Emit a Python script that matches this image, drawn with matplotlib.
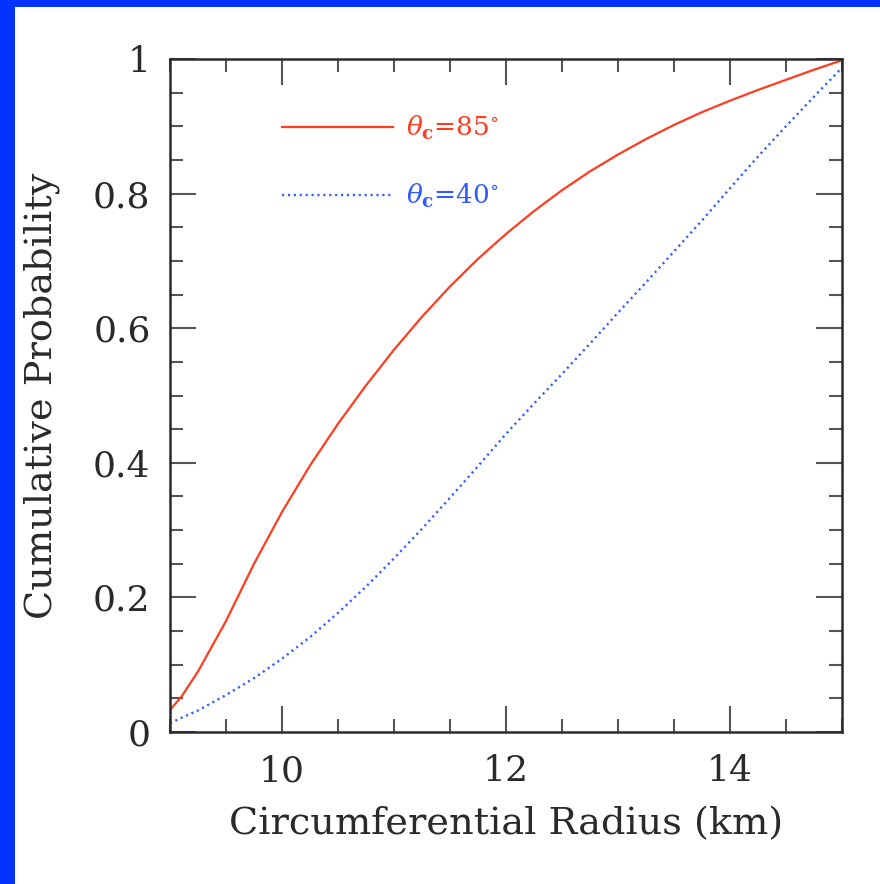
import numpy as np
import matplotlib
matplotlib.use('Agg')
import matplotlib.pyplot as plt
from matplotlib.ticker import MultipleLocator, FuncFormatter
from matplotlib.patches import Rectangle

# values
radius = [9.0, 9.1, 9.25, 9.5, 9.75, 10.0, 10.25, 10.5, 10.75, 11.0, 11.25, 11.5, 11.75,
          12.0, 12.25, 12.5, 12.75, 13.0, 13.25, 13.5, 13.75, 14.0, 14.25, 14.5, 14.75, 15.0]
prob_85 = [0.033, 0.052, 0.090, 0.165, 0.250, 0.327, 0.396, 0.458, 0.515, 0.568, 0.617, 0.662, 0.703,
           0.740, 0.774, 0.805, 0.833, 0.858, 0.881, 0.902, 0.921, 0.938, 0.954, 0.969, 0.984, 0.998]
prob_40 = [0.013, 0.021, 0.032, 0.055, 0.080, 0.109, 0.141, 0.177, 0.216, 0.258, 0.302, 0.348, 0.395,
           0.443, 0.488, 0.532, 0.577, 0.623, 0.668, 0.714, 0.760, 0.808, 0.855, 0.900, 0.944, 0.987]
labels = [r'$\theta_{\mathbf{c}}$=85$^{\circ}$', r'$\theta_{\mathbf{c}}$=40$^{\circ}$']

red = '#ff3c1e'
blue = '#2f5bff'
ink = '#2a2a2a'

plt.rcParams['font.family'] = 'DejaVu Serif'
plt.rcParams['mathtext.fontset'] = 'dejavuserif'

fig = plt.figure(figsize=(8.8, 8.84), dpi=100, facecolor='#0433ff')
# white panel inside the blue frame
fig.patches.append(Rectangle((15 / 880, 0), 1, 1 - 7 / 884, transform=fig.transFigure,
                             facecolor='white', edgecolor='none', zorder=-10))

ax = fig.add_axes([0.1932, 0.1719, 0.7636, 0.7614])
ax.set_facecolor('white')

ax.plot(radius, prob_85, color=red, lw=1.6, label=labels[0])
ax.plot(radius, prob_40, color=blue, lw=1.7, linestyle=(0, (0.9, 1.6)), label=labels[1])

ax.set_xlim(9, 15)
ax.set_ylim(0, 1)

ax.xaxis.set_major_locator(MultipleLocator(2))
ax.xaxis.set_minor_locator(MultipleLocator(0.5))
ax.yaxis.set_major_locator(MultipleLocator(0.2))
ax.yaxis.set_minor_locator(MultipleLocator(0.05))
ax.yaxis.set_major_formatter(FuncFormatter(lambda v, p: '%g' % round(v, 2)))

ax.tick_params(which='both', direction='in', top=True, right=True, color='#555555')
ax.tick_params(which='major', length=19, width=1.5, labelsize=26, labelcolor=ink, pad=14)
ax.tick_params(which='minor', length=9.5, width=1.5)
ax.tick_params(axis='x', which='major', pad=16)
for s in ax.spines.values():
    s.set_linewidth(1.8)
    s.set_color(ink)

ax.set_xlabel('Circumferential Radius (km)', fontsize=27.5, color=ink, labelpad=13)
ax.set_ylabel('Cumulative Probability', fontsize=27.5, color=ink, labelpad=24)

leg = ax.legend(loc='upper left', bbox_to_anchor=(0.1667, 0.918), frameon=False,
                fontsize=19, handlelength=4.2, handletextpad=0.5, labelspacing=1.5,
                borderpad=0, borderaxespad=0, labelcolor='linecolor')

fig.savefig('out.png', dpi=100, facecolor=fig.get_facecolor())
